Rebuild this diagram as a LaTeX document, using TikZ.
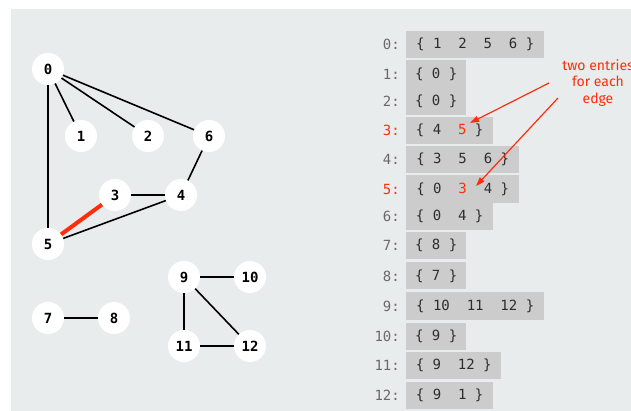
\documentclass[tikz,border=0pt]{standalone}
\usepackage{fontspec}
\setmonofont{DejaVu Sans Mono}
\newfontfamily\notefont{Fira Sans}
\usetikzlibrary{arrows.meta,positioning}
\definecolor{bggray}{RGB}{233,236,237}
\definecolor{boxgray}{RGB}{204,204,204}
\definecolor{hotred}{RGB}{255,45,10}
\definecolor{txtgray}{RGB}{45,45,45}
\definecolor{lblgray}{RGB}{105,105,105}

\begin{document}
\begin{tikzpicture}[x=1pt, y=-1pt,
  vertex/.style={circle, fill=white, minimum size=32pt, inner sep=0pt, font=\ttfamily\bfseries\fontsize{14}{14}\selectfont},
  edge/.style={line width=1.6pt},
  hot/.style={line width=4pt, hotred},
  adj/.style={fill=boxgray, anchor=west, minimum height=27pt, minimum width=60pt, inner sep=0pt, text=txtgray, font=\ttfamily\fontsize{14}{14}\selectfont},
  lbl/.style={inner sep=0pt, text=lblgray, font=\ttfamily\fontsize{14}{14}\selectfont},
  note/.style={align=center, text=hotred, font=\notefont\fontsize{14}{16.5}\selectfont},
  redarr/.style={-{Triangle[length=9pt,width=6pt]}, hotred, line width=1.2pt}
]
\useasboundingbox (0,0) rectangle (631,411);
\fill[bggray] (11,9) rectangle (631,411);

% the graph
\node[vertex] (v0) at (48,69) {0};
\node[vertex] (v1) at (81,136) {1};
\node[vertex] (v2) at (148,136) {2};
\node[vertex] (v6) at (209,136) {6};
\node[vertex] (v3) at (115,195) {3};
\node[vertex] (v4) at (181,195) {4};
\node[vertex] (v5) at (48,244) {5};
\node[vertex] (v7) at (48,318) {7};
\node[vertex] (v8) at (114,318) {8};
\node[vertex] (v9) at (184,277) {9};
\node[vertex] (v10) at (250,277) {10};
\node[vertex] (v11) at (184,346) {11};
\node[vertex] (v12) at (250,346) {12};

\draw[edge] (v0) -- (v1);
\draw[edge] (v0) -- (v2);
\draw[edge] (v0) -- (v6);
\draw[edge] (v0) -- (v5);
\draw[edge] (v6) -- (v4);
\draw[edge] (v3) -- (v4);
\draw[edge] (v5) -- (v4);
\draw[hot] (v3) -- (v5);
\draw[edge] (v7) -- (v8);
\draw[edge] (v9) -- (v10);
\draw[edge] (v9) -- (v11);
\draw[edge] (v9) -- (v12);
\draw[edge] (v11) -- (v12);

% adjacency lists
\node[adj, minimum width=138pt] (b0) at (406,44.5) {\{~1~~2~~5~~6~\}};
\node[adj, minimum height=28pt] (b1) at (406,74) {\{~0~\}};
\node[adj] (b2) at (406,101.5) {\{~0~\}};
\node[adj, minimum width=87pt] (b3) at (406,130.5) {\{~4~~\textcolor{hotred}{5}~\}};
\node[adj, minimum width=113pt] (b4) at (406,159.5) {\{~3~~5~~6~\}};
\node[adj, minimum width=113pt, minimum height=28pt] (b5) at (406,189) {\{~0~~\textcolor{hotred}{3}~~4~\}};
\node[adj, minimum width=87pt] (b6) at (406,216.5) {\{~0~~4~\}};
\node[adj] (b7) at (406,245.5) {\{~8~\}};
\node[adj] (b8) at (406,276) {\{~7~\}};
\node[adj, minimum width=138pt, minimum height=28pt] (b9) at (406,306) {\{~10~~11~~12~\}};
\node[adj] (b10) at (406,336) {\{~9~\}};
\node[adj, minimum width=95pt] (b11) at (406,365.5) {\{~9~~12~\}};
\node[adj, minimum width=87pt] (b12) at (406,395) {\{~9~~1~\}};

\node[lbl, left=6pt of b0] (l0) {0:};
\node[lbl, left=6pt of b1] (l1) {1:};
\node[lbl, left=6pt of b2] (l2) {2:};
\node[lbl, left=6pt of b3, text=hotred] (l3) {3:};
\node[lbl, left=6pt of b4] (l4) {4:};
\node[lbl, left=6pt of b5, text=hotred] (l5) {5:};
\node[lbl, left=6pt of b6] (l6) {6:};
\node[lbl, left=6pt of b7] (l7) {7:};
\node[lbl, left=6pt of b8] (l8) {8:};
\node[lbl, left=6pt of b9] (l9) {9:};
\node[lbl, left=6pt of b10] (l10) {10:};
\node[lbl, left=6pt of b11] (l11) {11:};
\node[lbl, left=6pt of b12] (l12) {12:};

% annotation
\node[note] (note) at (598,83) {two entries\\for each\\edge};
\coordinate (from3) at (549,83);
\coordinate (to3) at (470,123);
\coordinate (from5) at (558,98);
\coordinate (to5) at (476,186);
\draw[redarr] (from3) -- (to3);
\draw[redarr] (from5) -- (to5);

\end{tikzpicture}
\end{document}
